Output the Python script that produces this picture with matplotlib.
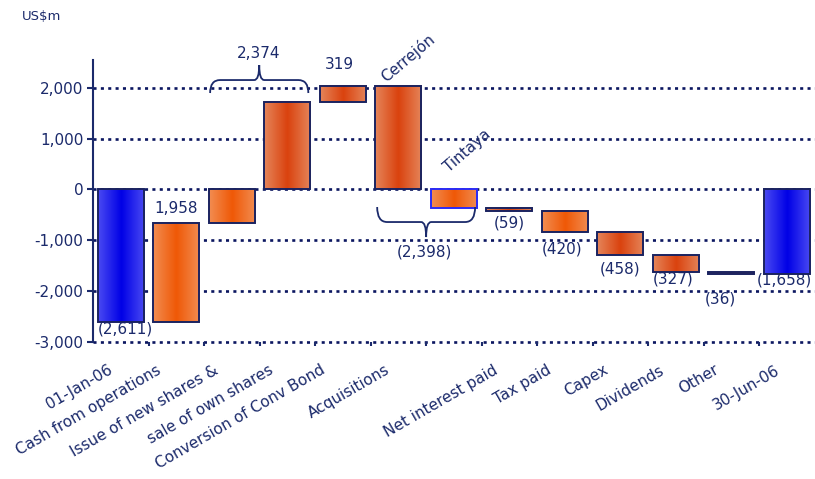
import numpy as np
import matplotlib
matplotlib.use("Agg")
import matplotlib.pyplot as plt
from matplotlib.colors import LinearSegmentedColormap
from matplotlib.path import Path
from matplotlib.patches import PathPatch

plt.rcParams['font.family'] = ['DejaVu Sans']
plt.rcParams['lines.scale_dashes'] = False

# ---------------- data ----------------
bar_names = ['01-Jan-06', 'Cash from operations', 'Issue of new shares', 'Sale of own shares',
             'Conversion of Conv Bond', 'Cerrejón', 'Tintaya', 'Net interest paid',
             'Tax paid', 'Capex', 'Dividends', 'Other', '30-Jun-06']
opening = -2611
changes = [1958, 653, 1721, 319, -2040, -358, -59, -420, -458, -327, -36]
closing = -1658

cat_labels = ['01-Jan-06', 'Cash from operations', 'Issue of new shares &', 'sale of own shares',
              'Conversion of Conv Bond', 'Acquisitions', '', 'Net interest paid', 'Tax paid',
              'Capex', 'Dividends', 'Other', '30-Jun-06']
y_ticks = [-3000, -2000, -1000, 0, 1000, 2000]
group_issue = [2, 3]
group_acq = [5, 6]

# ---------------- derived waterfall geometry ----------------
n = len(bar_names)
x = np.arange(n)
bottoms, heights = [0], [opening]
level = opening
for c in changes:
    bottoms.append(level)
    heights.append(c)
    level += c
bottoms.append(0)
heights.append(closing)
bottoms = np.array(bottoms, float)
heights = np.array(heights, float)
lows = np.minimum(bottoms, bottoms + heights)
highs = np.maximum(bottoms, bottoms + heights)

def fmt(v):
    return f"{abs(v):,.0f}" if v >= 0 else f"({abs(v):,.0f})"

# ---------------- style ----------------
NAVY = '#1b2a6b'
GRID = '#0b1660'
EDGE = '#1a2360'
grad = {
    'blue': ('#4a4af2', '#0000e6'),
    'A': ('#f28d52', '#ef5806'),
    'B': ('#e5855a', '#da420e'),
}
kinds = ['blue', 'A', 'A', 'B', 'B', 'B', 'A', 'B', 'A', 'B', 'B', 'B', 'blue']
edges = [EDGE] * n
edges[6] = '#2b2bf5'
width = 0.83
# per-label horizontal nudges (pixels) for the category labels
lab_dx_px = [-2, -9, -7, -8, -12, -2, 0, -5, -7, -6, -5, -6, -1]

fig = plt.figure(figsize=(8.15, 4.79), dpi=100)
ax = fig.add_axes([93 / 815, 1 - 342 / 479, (814.5 - 93) / 815, (342 - 60) / 479])

# grid lines (dotted)
for v in y_ticks:
    ax.axhline(v, color=GRID, lw=1.9, linestyle=(0, (2.2, 3.1)), dash_capstyle='butt',
               zorder=1, clip_on=False)

# bars with horizontal gradient
bars = ax.bar(x, heights, bottom=bottoms, width=width, facecolor='none',
              edgecolor=edges, linewidth=1.4, zorder=4)
grad_arr = np.linspace(0, 1, 128)[None, :]
for i, p in enumerate(bars.patches):
    e, c = grad[kinds[i]]
    cmap = LinearSegmentedColormap.from_list(f'g{i}', [e, c, e])
    ax.imshow(grad_arr, cmap=cmap, aspect='auto', interpolation='bilinear',
              extent=(p.get_x(), p.get_x() + p.get_width(), lows[i], highs[i]), zorder=3)

ax.set_xlim(-0.5, n - 0.5)
ax.set_ylim(-3000, 2545)

# axes styling
for s in ['top', 'right', 'bottom']:
    ax.spines[s].set_visible(False)
ax.spines['left'].set_color(NAVY)
ax.spines['left'].set_linewidth(1.5)
ax.set_yticks(y_ticks)
ax.set_yticklabels([f"{v:,}" for v in y_ticks], fontsize=11, color=NAVY)
ax.tick_params(axis='y', colors=NAVY, length=4, width=1.5, pad=3)
ax.set_xticks([])
ax.set_xticks(np.arange(0.5, n - 1), minor=True)
ax.tick_params(axis='x', which='minor', length=3, width=1.5, colors=NAVY, direction='out')

# category labels
for i, lab in enumerate(cat_labels):
    if lab:
        ax.text(i - 0.2 + lab_dx_px[i] / 55.5, -3400, lab, rotation=30, rotation_mode='anchor',
                ha='right', va='top', fontsize=11, color=NAVY, clip_on=False)

# value labels (offsets in pixels from bar end)
def px(dx, dy):
    return dict(xytext=(dx * 0.72, dy * 0.72), textcoords='offset points')

lab_spec = {0: (5, -7, 'low'), 1: (0, 14, 'high'), 4: (-3, 21, 'high'), 7: (0, -12, 'low'),
            8: (-3, -17, 'low'), 9: (0, -14, 'low'), 10: (-3, -7, 'low'), 11: (-11, -25, 'low'),
            12: (-2, -6, 'low')}
for i, (dx, dy, end) in lab_spec.items():
    yv = lows[i] if end == 'low' else highs[i]
    ax.annotate(fmt(heights[i]), (x[i], yv), ha='center', va='center', fontsize=11,
                color=NAVY, annotation_clip=False, **px(dx, dy))

# rotated acquisition names
ax.text(4.79, 2100, 'Cerrejón', rotation=40, rotation_mode='anchor', ha='left', va='baseline',
        fontsize=11, color=NAVY, clip_on=False)
ax.text(5.91, 330, 'Tintaya', rotation=41, rotation_mode='anchor', ha='left', va='baseline',
        fontsize=11, color=NAVY, clip_on=False)

# braces
def brace(x0, x1, y_tip, y_bar, y_peak, rx=0.18, rx2=0.09):
    xm = (x0 + x1) / 2
    verts = [(x0, y_tip), (x0, y_bar), (x0 + rx, y_bar), (xm - rx2, y_bar), (xm, y_bar), (xm, y_peak),
             (xm, y_bar), (xm + rx2, y_bar), (x1 - rx, y_bar), (x1, y_bar), (x1, y_tip)]
    codes = [Path.MOVETO, Path.CURVE3, Path.CURVE3, Path.LINETO, Path.CURVE3, Path.CURVE3,
             Path.CURVE3, Path.CURVE3, Path.LINETO, Path.CURVE3, Path.CURVE3]
    ax.add_patch(PathPatch(Path(verts, codes), fill=False, edgecolor=NAVY, lw=1.3,
                           clip_on=False, zorder=5))

g1 = sum(heights[i] for i in group_issue)
brace(group_issue[0] - 0.39, group_issue[1] + 0.38, 1896, 2151, 2446)
ax.text(np.mean(group_issue) - 0.02, 2682, fmt(g1), ha='center', va='center', fontsize=11,
        color=NAVY, clip_on=False)
g2 = sum(heights[i] for i in group_acq)
brace(group_acq[0] - 0.38, group_acq[1] + 0.385, -346, -641, -936)
ax.text(np.mean(group_acq) - 0.03, -1230, fmt(g2), ha='center', va='center', fontsize=11,
        color=NAVY, clip_on=False)

fig.text(22 / 815, 1 - 16 / 479, 'US$m', fontsize=9.5, color=NAVY, ha='left', va='center')

fig.savefig('out.png', dpi=100)
